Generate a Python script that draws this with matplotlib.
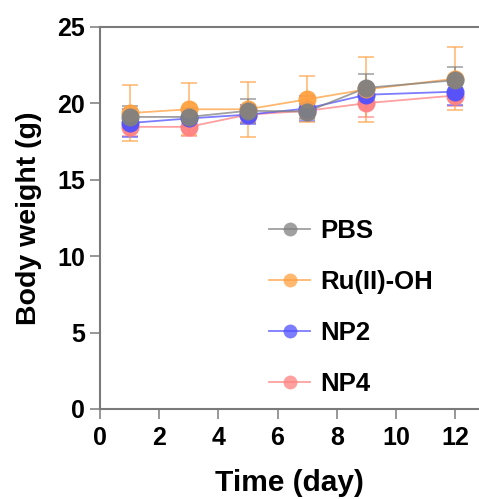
import matplotlib
matplotlib.use("Agg")
import matplotlib.pyplot as plt
from matplotlib.lines import Line2D

days = [1, 3, 5, 7, 9, 12]
groups = ["PBS", "Ru(II)-OH", "NP2", "NP4"]
pbs_mean = [19.1, 19.1, 19.5, 19.45, 21.0, 21.5]
pbs_err = [0.7, 0.6, 0.8, 0.5, 0.9, 0.85]
ru_mean = [19.35, 19.6, 19.6, 20.25, 20.9, 21.6]
ru_err = [1.85, 1.7, 1.8, 1.5, 2.1, 2.05]
np2_mean = [18.7, 19.0, 19.25, 19.65, 20.55, 20.75]
np2_err = [0.9, 0.5, 0.6, 0.8, 0.5, 0.9]
np4_mean = [18.45, 18.45, 19.25, 19.5, 20.0, 20.5]
np4_err = [0.6, 0.6, 0.5, 0.5, 0.9, 0.7]

colors = ["#808080", "#ffa040", "#5050ff", "#ff8080"]
means = [pbs_mean, ru_mean, np2_mean, np4_mean]
errs = [pbs_err, ru_err, np2_err, np4_err]

plt.rcParams['font.family'] = ['Liberation Sans', 'DejaVu Sans']
plt.rcParams['font.weight'] = 'bold'

fig = plt.figure(figsize=(4.79, 4.99), dpi=100)
ax = fig.add_axes([0.2088, 0.1804, 0.7912, 0.7661])

spine_col = "#7a7a7a"
for i in reversed(range(4)):
    ax.errorbar(days, means[i], yerr=errs[i], fmt='none', ecolor=colors[i],
                elinewidth=1.4, capsize=6, capthick=1.4, alpha=0.6, zorder=2)
for i in reversed(range(4)):
    ax.plot(days, means[i], '-', color=colors[i], lw=1.3, alpha=0.75, zorder=3)
    ax.plot(days, means[i], 'o', color=colors[i], ms=13, alpha=0.95, mec='none', zorder=4)

handles = []
for i in range(4):
    handles.append(Line2D([0], [0], color=colors[i], lw=1.3, alpha=0.75,
                          marker='o', ms=10, mec='none', mfc=colors[i]))

ax.set_xlim(0, 12.81)
ax.set_ylim(0, 25)
ax.set_xticks([0, 2, 4, 6, 8, 10, 12])
ax.set_yticks([0, 5, 10, 15, 20, 25])
for s in ['left', 'bottom', 'top']:
    ax.spines[s].set_color(spine_col)
    ax.spines[s].set_linewidth(1.5)
ax.spines['right'].set_visible(False)
ax.tick_params(axis='both', direction='out', length=7.2, width=1.1, color=spine_col,
               labelsize=18)
ax.tick_params(axis='x', pad=5)
ax.tick_params(axis='y', pad=3.5)
for lab in ax.get_xticklabels() + ax.get_yticklabels():
    lab.set_fontweight('bold')

ax.set_xlabel("Time (day)", fontsize=21.5, fontweight='bold', labelpad=14)
ax.set_ylabel("Body weight (g)", fontsize=20.5, fontweight='bold', labelpad=11)

leg = ax.legend(handles, groups, loc='upper left', bbox_to_anchor=(269 / 479, 1 - 219 / 499),
                bbox_transform=fig.transFigure, frameon=False, fontsize=18.5,
                handlelength=1.6, handletextpad=0.39, labelspacing=1.05,
                borderaxespad=0, borderpad=0)
for t in leg.get_texts():
    t.set_fontweight('bold')

fig.savefig("out.png", dpi=100)
